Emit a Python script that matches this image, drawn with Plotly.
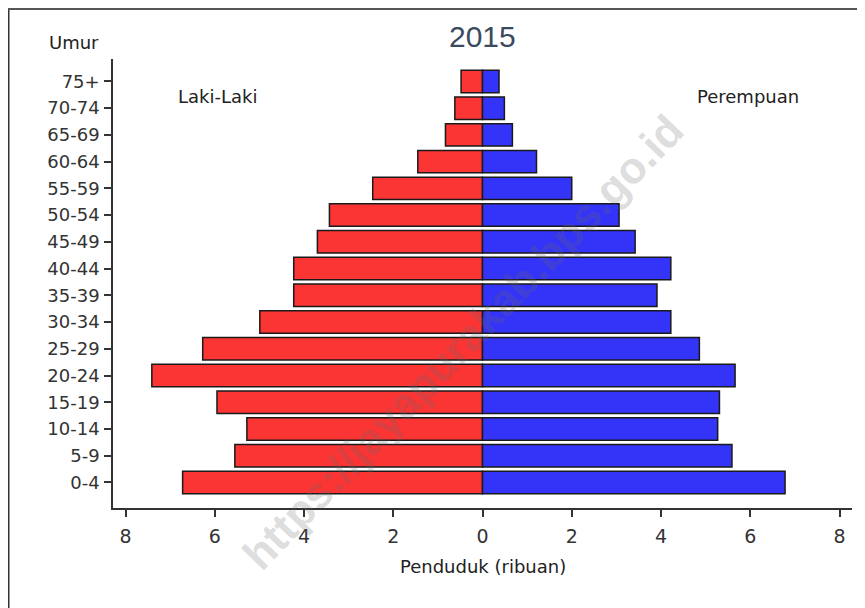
import plotly.graph_objects as go

# ---- data (ribuan) ----
age_groups = ["0-4", "5-9", "10-14", "15-19", "20-24", "25-29", "30-34", "35-39",
              "40-44", "45-49", "50-54", "55-59", "60-64", "65-69", "70-74", "75+"]
laki_laki = [6.72, 5.55, 5.28, 5.95, 7.41, 6.27, 4.99, 4.23,
             4.23, 3.70, 3.43, 2.46, 1.45, 0.83, 0.62, 0.48]
perempuan = [6.78, 5.59, 5.27, 5.31, 5.66, 4.86, 4.22, 3.91,
             4.22, 3.42, 3.06, 2.00, 1.21, 0.67, 0.49, 0.37]
x_tickvals = [-8, -6, -4, -2, 0, 2, 4, 6, 8]
x_ticktext = ["8", "6", "4", "2", "0", "2", "4", "6", "8"]

# page body has an 8px margin; lay the figure out in page pixels
OFF = 8
W, H = 865 - OFF, 608 - OFF
L, R, T, B = 113 - OFF, 13, 59 - OFF, 608 - 508
PW, PH = W - L - R, H - T - B


def px(xp):
    return (xp - OFF - L) / PW


def py(yp):
    return (H - B - (yp - OFF)) / PH


LINE = "#1a1a1a"
AX = "#333333"
TXT = "#222222"
FONT = "DejaVu Sans"

fig = go.Figure()
fig.add_trace(go.Bar(
    y=age_groups, x=[-v for v in laki_laki], orientation="h", name="Laki-Laki",
    marker=dict(color="#fb3434", line=dict(color=LINE, width=1.5)),
    width=0.84, showlegend=False))
fig.add_trace(go.Bar(
    y=age_groups, x=perempuan, orientation="h", name="Perempuan",
    marker=dict(color="#3434f8", line=dict(color=LINE, width=1.5)),
    width=0.84, showlegend=False))


def label(text, x, y, size=18, color=TXT, family=FONT, angle=0):
    return dict(text=text, x=px(x), y=py(y), xref="paper", yref="paper",
                xanchor="center", yanchor="middle", showarrow=False, textangle=angle,
                font=dict(family=family, size=size, color=color))


fig.update_layout(
    width=W, height=H,
    margin=dict(l=L, r=R, t=T, b=B),
    paper_bgcolor="white", plot_bgcolor="white",
    barmode="overlay",
    xaxis=dict(range=[-8.28, 8.28], tickvals=x_tickvals, ticktext=x_ticktext,
               showgrid=False, zeroline=False, showline=True, linecolor=AX, linewidth=1.5,
               ticks="outside", ticklen=7, tickwidth=1.5, tickcolor=AX,
               tickfont=dict(family=FONT, size=19, color="#333333"),
               ticklabelstandoff=3, fixedrange=True),
    yaxis=dict(type="category", range=[-0.954, 15.838],
               showgrid=False, zeroline=False, showline=True, linecolor=AX, linewidth=1.5,
               ticks="outside", ticklen=7, tickwidth=1.5, tickcolor=AX,
               tickfont=dict(family=FONT, size=18, color="#333333"),
               ticklabelstandoff=1, fixedrange=True),
    annotations=[
        label("<b>https://jayapurakab.bps.go.id</b>", 462, 342, size=44,
              color="rgba(105,105,105,0.24)", family="Liberation Sans", angle=-46),
        label("2015", 482, 36, size=30, color="#3c4a5e", family="Liberation Sans"),
        label("Umur", 74, 43),
        label("Laki-Laki", 217, 96),
        label("Perempuan", 748, 96),
        label("Penduduk (ribuan)", 482.5, 566),
    ],
    shapes=[
        dict(type="line", xref="paper", yref="paper", x0=px(8.5), x1=px(8.5), y0=py(8), y1=py(608),
             line=dict(color="#333333", width=2)),
        dict(type="line", xref="paper", yref="paper", x0=px(8), x1=px(865), y0=py(9), y1=py(9),
             line=dict(color="#555555", width=2)),
    ],
)

fig.write_html("out.html")
